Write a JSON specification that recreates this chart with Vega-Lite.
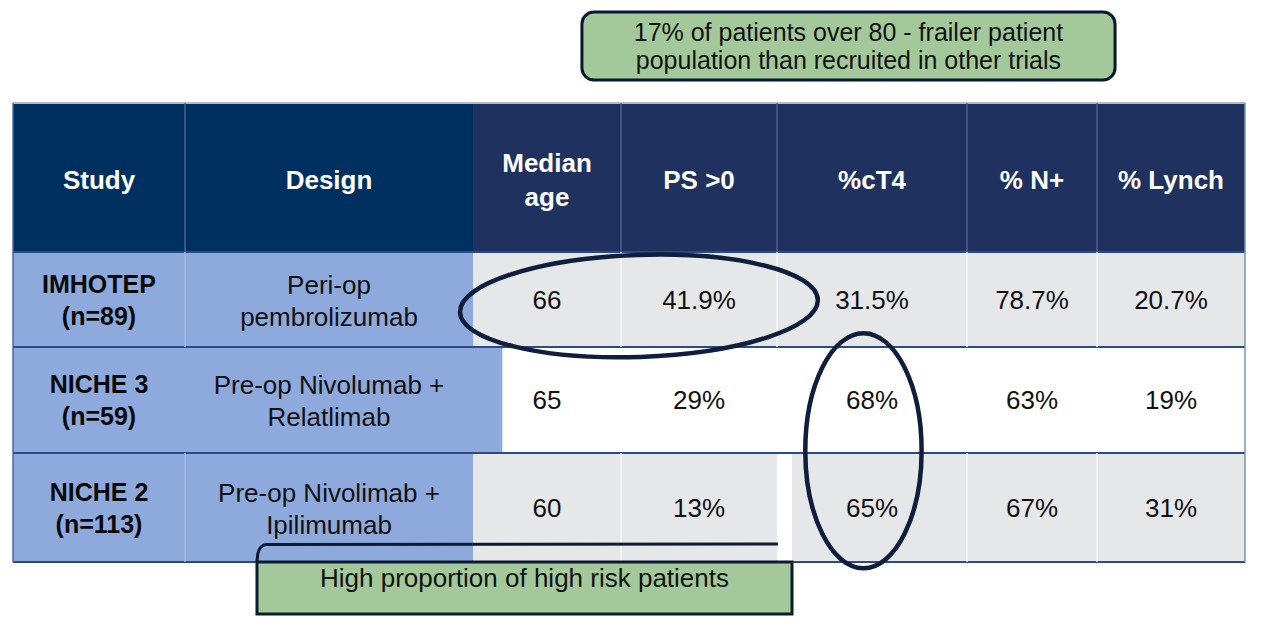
{
  "$schema": "https://vega.github.io/schema/vega-lite/v6.json",
  "width": 1273,
  "height": 620,
  "padding": 0,
  "autosize": {"type": "none"},
  "background": "white",
  "config": {"view": {"stroke": null}, "font": "Liberation Sans"},
  "datasets": {
    "cells": [
      {"c0": -0.5, "c1": 1.5, "r0": -0.5, "r1": 0.5, "kind": "headDark"},
      {"c0": 1.5, "c1": 6.5, "r0": -0.5, "r1": 0.5, "kind": "head"},
      {"c0": -0.5, "c1": 1.5, "r0": 0.5, "r1": 1.5, "kind": "label"},
      {"c0": 1.5, "c1": 6.5, "r0": 0.5, "r1": 1.5, "kind": "shade"},
      {"c0": -0.5, "c1": 1.7, "r0": 1.5, "r1": 2.5, "kind": "label"},
      {"c0": 1.7, "c1": 6.5, "r0": 1.5, "r1": 2.5, "kind": "plain"},
      {"c0": -0.5, "c1": 1.5, "r0": 2.5, "r1": 3.5, "kind": "label"},
      {"c0": 1.5, "c1": 3.5, "r0": 2.5, "r1": 3.5, "kind": "shade"},
      {"c0": 3.5, "c1": 3.579, "r0": 2.5, "r1": 3.5, "kind": "plain"},
      {"c0": 3.579, "c1": 6.5, "r0": 2.5, "r1": 3.5, "kind": "shade"}
    ],
    "hlines": [
      {"r": -0.5, "c0": -0.5, "c1": 6.5, "kind": "top"},
      {"r": 0.5, "c0": -0.5, "c1": 6.5, "kind": "row"},
      {"r": 1.5, "c0": -0.5, "c1": 6.5, "kind": "row"},
      {"r": 2.5, "c0": -0.5, "c1": 6.5, "kind": "row"},
      {"r": 3.5, "c0": -0.5, "c1": 6.5, "kind": "row"}
    ],
    "vlines": [
      {"c": 0.5, "r0": -0.5, "r1": 0.5, "kind": "headLine"},
      {"c": 2.5, "r0": -0.5, "r1": 0.5, "kind": "headLine"},
      {"c": 3.5, "r0": -0.5, "r1": 0.5, "kind": "headLine"},
      {"c": 4.5, "r0": -0.5, "r1": 0.5, "kind": "headLine"},
      {"c": 5.5, "r0": -0.5, "r1": 0.5, "kind": "headLine"},
      {"c": 0.5, "r0": 0.5, "r1": 1.5, "kind": "labelLine"},
      {"c": 0.5, "r0": 2.5, "r1": 3.5, "kind": "labelLine"},
      {"c": 2.5, "r0": 0.5, "r1": 1.5, "kind": "faintLine"},
      {"c": 3.5, "r0": 0.5, "r1": 1.5, "kind": "faintLine"},
      {"c": 4.5, "r0": 0.5, "r1": 1.5, "kind": "faintLine"},
      {"c": 5.5, "r0": 0.5, "r1": 1.5, "kind": "faintLine"},
      {"c": 2.5, "r0": 2.5, "r1": 3.5, "kind": "faintLine"},
      {"c": 4.5, "r0": 2.5, "r1": 3.5, "kind": "faintLine"},
      {"c": 5.5, "r0": 2.5, "r1": 3.5, "kind": "faintLine"},
      {"c": -0.5, "r0": -0.5, "r1": 3.5, "kind": "leftBorder"},
      {"c": 6.5, "r0": -0.5, "r1": 3.5, "kind": "rightBorder"}
    ],
    "texts": [
      {"row": 0, "col": 0, "kind": "head", "label": "Study"},
      {"row": 0, "col": 1, "kind": "head", "label": "Design"},
      {"row": 0, "col": 2, "kind": "head2", "label": ["Median", "age"]},
      {"row": 0, "col": 3, "kind": "head", "label": "PS >0"},
      {"row": 0, "col": 4, "kind": "head", "label": "%cT4"},
      {"row": 0, "col": 5, "kind": "head", "label": "% N+"},
      {"row": 0, "col": 6, "kind": "head", "label": "% Lynch"},
      {"row": 1, "col": 0, "kind": "study", "label": ["IMHOTEP", "(n=89)"]},
      {"row": 1, "col": 1, "kind": "design", "label": ["Peri-op", "pembrolizumab"]},
      {"row": 1, "col": 2, "kind": "value", "label": "66"},
      {"row": 1, "col": 3, "kind": "value", "label": "41.9%"},
      {"row": 1, "col": 4, "kind": "value", "label": "31.5%"},
      {"row": 1, "col": 5, "kind": "value", "label": "78.7%"},
      {"row": 1, "col": 6, "kind": "value", "label": "20.7%"},
      {"row": 2, "col": 0, "kind": "study", "label": ["NICHE 3", "(n=59)"]},
      {"row": 2, "col": 1, "kind": "design", "label": ["Pre-op Nivolumab +", "Relatlimab"]},
      {"row": 2, "col": 2, "kind": "value", "label": "65"},
      {"row": 2, "col": 3, "kind": "value", "label": "29%"},
      {"row": 2, "col": 4, "kind": "value", "label": "68%"},
      {"row": 2, "col": 5, "kind": "value", "label": "63%"},
      {"row": 2, "col": 6, "kind": "value", "label": "19%"},
      {"row": 3, "col": 0, "kind": "study", "label": ["NICHE 2", "(n=113)"]},
      {"row": 3, "col": 1, "kind": "design", "label": ["Pre-op Nivolimab +", "Ipilimumab"]},
      {"row": 3, "col": 2, "kind": "value", "label": "60"},
      {"row": 3, "col": 3, "kind": "value", "label": "13%"},
      {"row": 3, "col": 4, "kind": "value", "label": "65%"},
      {"row": 3, "col": 5, "kind": "value", "label": "67%"},
      {"row": 3, "col": 6, "kind": "value", "label": "31%"}
    ],
    "notes": [
      {"note": "frail", "x0": 2.236, "x1": 5.622, "y0": -1.383, "y1": -0.723, "xc": 3.876, "yc": -1.039, "label": ["17% of patients over 80 - frailer patient", "population than recruited in other trials"]},
      {"note": "risk", "x0": 0.75, "x1": 3.579, "y0": 3.5, "y1": 4.397, "xc": 1.848, "yc": 3.793, "label": "High proportion of high risk patients"}
    ],
    "bracket": [
      {"x": 0.75, "y": 3.5, "o": 0},
      {"x": 0.7535, "y": 3.417, "o": 1},
      {"x": 0.764, "y": 3.362, "o": 2},
      {"x": 0.781, "y": 3.339, "o": 3},
      {"x": 3.505, "y": 3.335, "o": 4}
    ],
    "rings": [
      {"ring": "age-ps", "x": 2.615, "y": 1.068},
      {"ring": "ct4", "x": 3.955, "y": 2.478}
    ]
  },
  "layer": [
    {
      "data": {"name": "cells"},
      "mark": {"type": "rect"},
      "encoding": {
        "x": {"field": "c0", "type": "quantitative", "axis": null, "scale": {"type": "linear", "domain": [-1.5, -0.5, 0.5, 1.5, 2.5, 3.5, 4.5, 5.5, 6.5, 7.5], "range": [0, 13, 185, 473, 621, 777, 967, 1097, 1245, 1273], "nice": false, "zero": false}},
        "x2": {"field": "c1"},
        "y": {"field": "r0", "type": "quantitative", "axis": null, "scale": {"type": "linear", "domain": [-1.5, -0.5, 0.5, 1.5, 2.5, 3.5, 4.5], "range": [0, 103, 252, 347, 453, 562, 620], "nice": false, "zero": false}},
        "y2": {"field": "r1"},
        "color": {"field": "kind", "type": "nominal", "legend": null, "scale": {"domain": ["headDark", "head", "label", "shade", "plain", "row", "top", "headLine", "labelLine", "faintLine", "leftBorder", "rightBorder"], "range": ["#00305F", "#1F315E", "#8EA9DB", "#E6E7E9", "#FFFFFF", "#2C4A85", "#B4BAC6", "#4D6090", "#A4B9E3", "#F7F7F8", "#4A68A8", "#7D91B8"]}}
      }
    },
    {
      "data": {"name": "hlines"},
      "mark": {"type": "rule", "strokeWidth": 2},
      "encoding": {
        "y": {"field": "r", "type": "quantitative", "axis": null},
        "x": {"field": "c0", "type": "quantitative", "axis": null},
        "x2": {"field": "c1"},
        "color": {"field": "kind", "type": "nominal", "legend": null}
      }
    },
    {
      "data": {"name": "vlines"},
      "mark": {"type": "rule", "strokeWidth": 1.5},
      "encoding": {
        "x": {"field": "c", "type": "quantitative", "axis": null},
        "y": {"field": "r0", "type": "quantitative", "axis": null},
        "y2": {"field": "r1"},
        "color": {"field": "kind", "type": "nominal", "legend": null}
      }
    },
    {
      "data": {"name": "texts"},
      "transform": [{"filter": "datum.kind === 'head'"}],
      "mark": {"type": "text", "fontSize": 26, "fontWeight": "bold", "color": "#FFFFFF", "align": "center", "baseline": "middle", "dy": 3},
      "encoding": {
        "x": {"field": "col", "type": "quantitative", "axis": null},
        "y": {"field": "row", "type": "quantitative", "axis": null},
        "text": {"field": "label", "type": "nominal"}
      }
    },
    {
      "data": {"name": "texts"},
      "transform": [{"filter": "datum.kind === 'head2'"}],
      "mark": {"type": "text", "fontSize": 26, "fontWeight": "bold", "color": "#FFFFFF", "lineHeight": 34, "align": "center", "baseline": "middle", "dy": -14},
      "encoding": {
        "x": {"field": "col", "type": "quantitative", "axis": null},
        "y": {"field": "row", "type": "quantitative", "axis": null},
        "text": {"field": "label", "type": "nominal"}
      }
    },
    {
      "data": {"name": "texts"},
      "transform": [{"filter": "datum.kind === 'study'"}],
      "mark": {"type": "text", "fontSize": 25, "fontWeight": "bold", "color": "#0A0A0A", "lineHeight": 32, "align": "center", "baseline": "middle", "dy": -15},
      "encoding": {
        "x": {"field": "col", "type": "quantitative", "axis": null},
        "y": {"field": "row", "type": "quantitative", "axis": null},
        "text": {"field": "label", "type": "nominal"}
      }
    },
    {
      "data": {"name": "texts"},
      "transform": [{"filter": "datum.kind === 'design'"}],
      "mark": {"type": "text", "fontSize": 26, "color": "#111111", "lineHeight": 32, "align": "center", "baseline": "middle", "dy": -14},
      "encoding": {
        "x": {"field": "col", "type": "quantitative", "axis": null},
        "y": {"field": "row", "type": "quantitative", "axis": null},
        "text": {"field": "label", "type": "nominal"}
      }
    },
    {
      "data": {"name": "texts"},
      "transform": [{"filter": "datum.kind === 'value'"}],
      "mark": {"type": "text", "fontSize": 26, "color": "#111111", "align": "center", "baseline": "middle", "dy": 1},
      "encoding": {
        "x": {"field": "col", "type": "quantitative", "axis": null},
        "y": {"field": "row", "type": "quantitative", "axis": null},
        "text": {"field": "label", "type": "nominal"}
      }
    },
    {
      "data": {"name": "notes"},
      "transform": [{"filter": "datum.note === 'risk'"}],
      "mark": {"type": "rect", "fill": "#A3C99B", "stroke": "#0D1A33", "strokeWidth": 3},
      "encoding": {
        "x": {"field": "x0", "type": "quantitative", "axis": null},
        "x2": {"field": "x1"},
        "y": {"field": "y0", "type": "quantitative", "axis": null},
        "y2": {"field": "y1"}
      }
    },
    {
      "data": {"name": "bracket"},
      "mark": {"type": "line", "stroke": "#0D1A33", "strokeWidth": 3, "interpolate": "monotone"},
      "encoding": {
        "x": {"field": "x", "type": "quantitative", "axis": null},
        "y": {"field": "y", "type": "quantitative", "axis": null},
        "order": {"field": "o", "type": "quantitative"}
      }
    },
    {
      "data": {"name": "notes"},
      "transform": [{"filter": "datum.note === 'frail'"}],
      "mark": {"type": "rect", "fill": "#A3C99B", "stroke": "#0B1630", "strokeWidth": 3, "cornerRadius": 12},
      "encoding": {
        "x": {"field": "x0", "type": "quantitative", "axis": null},
        "x2": {"field": "x1"},
        "y": {"field": "y0", "type": "quantitative", "axis": null},
        "y2": {"field": "y1"}
      }
    },
    {
      "data": {"name": "notes"},
      "transform": [{"filter": "datum.note === 'frail'"}],
      "mark": {"type": "text", "fontSize": 25, "color": "#111111", "lineHeight": 28, "align": "center", "baseline": "middle", "dy": -14},
      "encoding": {
        "x": {"field": "xc", "type": "quantitative", "axis": null},
        "y": {"field": "yc", "type": "quantitative", "axis": null},
        "text": {"field": "label", "type": "nominal"}
      }
    },
    {
      "data": {"name": "notes"},
      "transform": [{"filter": "datum.note === 'risk'"}],
      "mark": {"type": "text", "fontSize": 26, "color": "#111111", "align": "center", "baseline": "middle"},
      "encoding": {
        "x": {"field": "xc", "type": "quantitative", "axis": null},
        "y": {"field": "yc", "type": "quantitative", "axis": null},
        "text": {"field": "label", "type": "nominal"}
      }
    },
    {
      "data": {"name": "rings"},
      "transform": [{"filter": "datum.ring === 'age-ps'"}],
      "mark": {"type": "point", "filled": false, "stroke": "#0F1E3C", "strokeWidth": 4.5, "opacity": 1, "size": 128164, "angle": -2, "shape": "M 1 0 C 1 0.1574 0.5523 0.285 0 0.285 C -0.5523 0.285 -1 0.1574 -1 0 C -1 -0.1574 -0.5523 -0.285 0 -0.285 C 0.5523 -0.285 1 -0.1574 1 0 Z"},
      "encoding": {
        "x": {"field": "x", "type": "quantitative", "axis": null},
        "y": {"field": "y", "type": "quantitative", "axis": null}
      }
    },
    {
      "data": {"name": "rings"},
      "transform": [{"filter": "datum.ring === 'ct4'"}],
      "mark": {"type": "point", "filled": false, "stroke": "#0F1E3C", "strokeWidth": 4.5, "opacity": 1, "size": 55225, "shape": "M 0.495 0 C 0.495 0.5523 0.2734 1 0 1 C -0.2734 1 -0.495 0.5523 -0.495 0 C -0.495 -0.5523 -0.2734 -1 0 -1 C 0.2734 -1 0.495 -0.5523 0.495 0 Z"},
      "encoding": {
        "x": {"field": "x", "type": "quantitative", "axis": null},
        "y": {"field": "y", "type": "quantitative", "axis": null}
      }
    }
  ]
}
